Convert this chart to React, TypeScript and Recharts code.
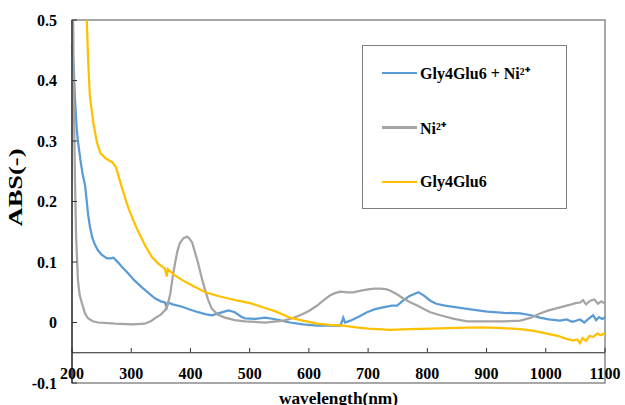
import React from "react";
import { LineChart, Line, XAxis, YAxis, Legend, ReferenceLine, ReferenceArea } from "recharts";

const FONT = "'Liberation Serif', 'Times New Roman', serif";

const xTicks = [200, 300, 400, 500, 600, 700, 800, 900, 1000, 1100];
const yTicks = [-0.1, 0, 0.1, 0.2, 0.3, 0.4, 0.5];

const seriesNames = ["Gly4Glu6 + Ni²⁺", "Ni²⁺", "Gly4Glu6"];
const seriesColors = ["#5B9BD5", "#A5A5A5", "#FFC000"];

const mixWl = [200, 203, 205, 208, 210, 214, 218, 222, 225, 227, 230, 234, 238, 244, 250, 259, 265, 270, 278, 286, 295, 305, 318, 330, 340, 350, 357, 360, 362, 370, 386, 400, 413, 425, 436, 450, 464, 475, 485, 492, 510, 526, 534, 550, 568, 590, 614, 635, 653, 656, 658, 661, 670, 685, 698, 712, 725, 740, 749, 759, 770, 785, 795, 805, 815, 830, 844, 870, 901, 930, 957, 975, 990, 1005, 1024, 1035, 1045, 1058, 1065, 1072, 1080, 1085, 1090, 1095, 1100];
const mixAbs = [0.46, 0.42, 0.37, 0.32, 0.3, 0.27, 0.245, 0.227, 0.2, 0.18, 0.16, 0.141, 0.13, 0.119, 0.112, 0.106, 0.106, 0.107, 0.099, 0.09, 0.081, 0.07, 0.058, 0.048, 0.04, 0.035, 0.033, 0.025, 0.033, 0.03, 0.026, 0.021, 0.017, 0.014, 0.012, 0.016, 0.02, 0.017, 0.01, 0.007, 0.006, 0.008, 0.007, 0.004, 0.0, -0.003, -0.005, -0.005, -0.005, 0.002, 0.008, 0.0, 0.003, 0.01, 0.017, 0.022, 0.025, 0.028, 0.028, 0.036, 0.044, 0.05, 0.044, 0.036, 0.031, 0.028, 0.026, 0.022, 0.018, 0.016, 0.015, 0.012, 0.008, 0.005, 0.003, 0.005, 0.001, 0.005, 0.0, 0.006, 0.012, 0.004, 0.009, 0.006, 0.008];

const niWl = [202, 203, 205, 207, 210, 213, 217, 222, 227, 235, 244, 273, 301, 323, 333, 340, 350, 357, 362, 366, 370, 374, 378, 382, 388, 394, 398, 403, 408, 413, 420, 425, 430, 436, 446, 458, 475, 492, 526, 557, 572, 585, 600, 614, 625, 636, 645, 653, 665, 675, 690, 703, 712, 720, 730, 737, 748, 759, 770, 783, 795, 805, 822, 845, 867, 900, 930, 957, 975, 990, 1005, 1024, 1040, 1050, 1058, 1063, 1068, 1075, 1082, 1088, 1094, 1100];
const niAbs = [0.5, 0.38, 0.235, 0.14, 0.07, 0.045, 0.031, 0.015, 0.007, 0.002, 0.0, -0.002, -0.003, -0.002, 0.002, 0.007, 0.013, 0.02, 0.03, 0.048, 0.075, 0.098, 0.118, 0.131, 0.139, 0.142, 0.139, 0.132, 0.115, 0.098, 0.07, 0.053, 0.037, 0.023, 0.013, 0.008, 0.004, 0.002, 0.0, 0.003, 0.007, 0.012, 0.019, 0.028, 0.037, 0.045, 0.049, 0.051, 0.05, 0.05, 0.053, 0.055, 0.056, 0.056, 0.055, 0.053, 0.047, 0.04, 0.034, 0.028, 0.022, 0.017, 0.012, 0.006, 0.002, 0.002, 0.002, 0.003, 0.008, 0.015, 0.02, 0.025, 0.029, 0.032, 0.033, 0.037, 0.03, 0.036, 0.038, 0.031, 0.035, 0.031];

const pepWl = [225, 227, 230, 236, 242, 248, 256, 262, 268, 274, 283, 290, 295, 303, 311, 323, 335, 346, 357, 360, 362, 372, 386, 400, 425, 450, 480, 501, 526, 545, 568, 590, 614, 635, 658, 680, 700, 737, 770, 805, 850, 889, 920, 957, 980, 1000, 1020, 1035, 1046, 1053, 1058, 1062, 1068, 1074, 1080, 1087, 1092, 1100];
const pepAbs = [0.5, 0.44, 0.376, 0.33, 0.298, 0.28, 0.272, 0.268, 0.265, 0.257, 0.227, 0.205, 0.19, 0.17, 0.152, 0.128, 0.108, 0.097, 0.089, 0.076, 0.088, 0.079, 0.07, 0.063, 0.05, 0.043, 0.036, 0.032, 0.024, 0.018, 0.008, 0.003, -0.002, -0.004, -0.005, -0.008, -0.01, -0.012, -0.011, -0.01, -0.009, -0.008, -0.009, -0.011, -0.014, -0.018, -0.022, -0.027, -0.03, -0.028, -0.034, -0.026, -0.03, -0.022, -0.024, -0.018, -0.021, -0.018];

const toData = (wl: number[], v: number[]) => wl.map((w, i) => ({ wl: w, abs: v[i] }));
const seriesData = [toData(mixWl, mixAbs), toData(niWl, niAbs), toData(pepWl, pepAbs)];

const textStyle = { fontFamily: FONT, fontWeight: 700, fontSize: 16, fill: "#000" } as const;

const XTick = (props: any) => {
  const { x, y, payload } = props;
  return (
    <g>
      <line x1={x} x2={x} y1={y - 35} y2={y - 31} stroke="#333" strokeWidth={1} />
      <text x={x} y={y - 4} textAnchor="middle" style={textStyle}>
        {payload.value}
      </text>
    </g>
  );
};

const YTick = (props: any) => {
  const { x, y, payload } = props;
  return (
    <g>
      <line x1={x} x2={x + 5} y1={y} y2={y} stroke="#333" strokeWidth={1} />
      <text x={x - 15} y={y + 5.5} textAnchor="end" style={textStyle}>
        {payload.value}
      </text>
    </g>
  );
};

const LegendBox = () => (
  <div
    style={{
      width: 205,
      height: 164,
      boxSizing: "border-box",
      border: "1.5px solid #7f7f7f",
      background: "#fff",
      position: "relative",
    }}
  >
    {seriesNames.map((name, i) => (
      <div
        key={name}
        style={{
          position: "absolute",
          left: 19,
          top: 16 + i * 54.5,
          height: 22,
          display: "flex",
          alignItems: "center",
          fontFamily: FONT,
          fontWeight: 700,
          fontSize: 16,
          color: "#000",
          whiteSpace: "nowrap",
        }}
      >
        <span style={{ display: "inline-block", width: 35, height: 2.5, background: seriesColors[i], marginRight: 3 }} />
        <span>{name}</span>
      </div>
    ))}
  </div>
);

export default function App() {
  return (
    <div style={{ position: "absolute", left: 0, top: 0, width: 625, height: 405, background: "#fff" }}>
      <LineChart width={625} height={405} margin={{ top: 20, right: 20, left: 0, bottom: 0 }}>
        <XAxis
          dataKey="wl"
          type="number"
          domain={[200, 1100]}
          ticks={xTicks}
          allowDuplicatedCategory={false}
          height={22}
          axisLine={false}
          tickLine={false}
          tickSize={0}
          tickMargin={0}
          tick={<XTick />}
          interval={0}
          label={(p: any) => {
            const vb = p.viewBox || {};
            return (
              <text x={vb.x + vb.width / 2} y={vb.y + 21} textAnchor="middle" style={{ ...textStyle, fontSize: 17.3 }}>
                wavelength(nm)
              </text>
            );
          }}
        />
        <YAxis
          type="number"
          domain={[-0.1, 0.5]}
          ticks={yTicks}
          width={72}
          allowDataOverflow
          axisLine={{ stroke: "#222", strokeWidth: 1.2 }}
          tickLine={false}
          tickSize={0}
          tickMargin={0}
          tick={<YTick />}
          interval={0}
          label={() => (
            <text
              x={0}
              y={0}
              transform="translate(22 187.5) rotate(-90)"
              textAnchor="middle"
              textLength={78}
              lengthAdjust="spacingAndGlyphs"
              style={{ ...textStyle, fontSize: 18 }}
            >
              ABS(-)
            </text>
          )}
        />
        <ReferenceArea x1={200} x2={1100} y1={-0.1} y2={0.5} fill="none" stroke="#8a8a8a" strokeWidth={1.5} ifOverflow="visible" />
        <ReferenceLine y={-0.05} stroke="#222" strokeWidth={1.2} />
        {seriesData.map((d, i) => (
          <Line
            key={seriesNames[i]}
            data={d}
            dataKey="abs"
            name={seriesNames[i]}
            type="linear"
            stroke={seriesColors[i]}
            strokeWidth={2.25}
            dot={false}
            activeDot={false}
            isAnimationActive={false}
          />
        ))}
        <Legend
          layout="vertical"
          verticalAlign="middle"
          align="center"
          content={<LegendBox />}
          wrapperStyle={{ position: "absolute", left: 362, top: 45, width: 205, height: 164 }}
        />
      </LineChart>
    </div>
  );
}
